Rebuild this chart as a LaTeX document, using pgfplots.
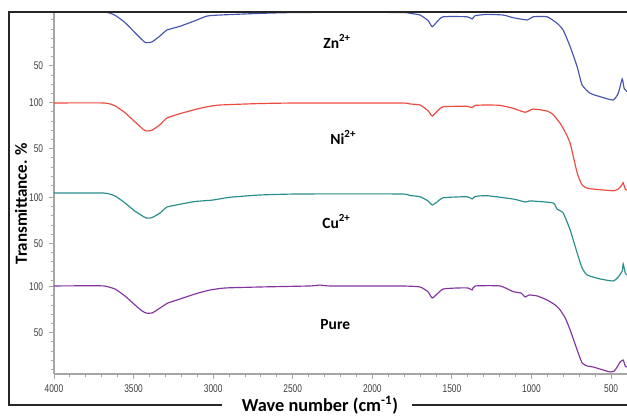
\documentclass[border=0pt]{standalone}
\usepackage{pgfplots}
\usepackage{pgfplotstable}
\pgfplotsset{compat=1.18}
\usepackage{fontspec}
\setmainfont{Carlito}
\newfontfamily\narrowfont[FakeStretch=0.75]{Liberation Sans}
\definecolor{znc}{RGB}{70,86,176}
\definecolor{nic}{RGB}{236,74,62}
\definecolor{cuc}{RGB}{40,142,140}
\definecolor{puc}{RGB}{132,52,158}

\pgfplotstableread{
x T
4000 100.7
3800 100.9
3686 100.7
3617 97.4
3554 89.8
3491 80
3450 74
3422 71.3
3384 71.3
3334 76.7
3284 82.2
3208 86.5
3114 92
3020 96.3
2925 98.5
2705 99.6
2391 100.7
2328 101.7
2265 100.7
1825 100.7
1700 99.6
1649 94.1
1624 87.6
1593 92
1555 97.4
1467 98.5
1398 98.5
1373 96.3
1354 100.7
1197 100.7
1115 94.5
1065 93
1040 88.7
1015 90.9
964 89.8
902 85.4
851 80
820 74.6
788 65.9
757 52.8
713 31.1
682 17
650 13.7
612 12.6
549 9.3
505 7.2
480 8.3
462 12.6
443 18
424 20.2
411 13.7
400 12.6
}\pure

\pgfplotstableread{
x T
4000 104.7
3686 104.7
3617 101.5
3554 94
3491 85
3422 77.6
3384 78
3334 83
3290 89.5
3208 92.5
3114 95.5
3001 97.1
2900 100
2705 102.6
2454 103.7
1825 103.7
1762 102
1700 100.7
1649 96
1624 91.7
1593 95
1555 99.6
1404 100.7
1373 98.2
1354 101
1279 101.8
1115 98.2
1040 95
1015 96
990 96
864 93.9
839 87.3
801 83
757 64.5
713 39.5
682 23.2
650 15.6
568 11.3
487 9.1
455 13.4
430 20
424 27.6
411 17.8
400 15.6
}\cu

\pgfplotstableread{
x T
4000 99.6
3686 99.6
3617 96.5
3554 89
3491 79
3428 69.5
3384 70
3334 76
3290 83.3
3208 88
3114 92.5
3038 95.5
2957 97.4
2705 99
2454 99.6
1825 99.6
1762 98.5
1700 97.4
1649 91
1624 85.4
1593 90.5
1555 95.5
1404 96
1373 94.5
1354 97
1279 97.4
1197 97
1115 93.8
1040 89.5
990 93
902 90.9
864 87
820 77.5
788 68
757 55.8
713 23.5
682 10.4
650 7
612 6
487 4.2
455 6
430 11
424 13
411 6
400 5
}\ni

\pgfplotstableread{
x T
4000 108.5
3686 108.5
3617 105
3554 97
3491 86
3428 75.5
3384 76
3334 82.5
3290 88.9
3208 93
3114 99
3038 104.1
2957 105.2
2705 107
2454 108
1825 108
1762 107
1700 105.2
1649 99
1624 92.5
1593 98
1555 103.3
1404 103.3
1373 100.9
1354 104.5
1279 105.9
1178 105.2
1115 102.3
1027 99.8
990 103.3
902 103.3
839 96.2
801 88.9
757 70.8
713 49
682 29.1
631 20.1
568 16.4
487 12.8
455 20.1
430 35.7
418 25.5
400 22
}\zn

\begin{document}
\begin{tikzpicture}
\begin{axis}[
  at={(0,0)}, anchor=south west,
  scale only axis, width=343.8pt, height=217.2pt,
  xmin=400, xmax=4000, x dir=reverse,
  ymin=0, ymax=393.5,
  axis x line=bottom, axis y line=left,
  axis line style={-, draw=gray!70, line width=0.8pt},
  xtick={500,1000,...,4000}, minor x tick num=4,
  ytick={45,95,142,192,245,295,335},
  yticklabels={50,100,50,100,50,100,50},
  minor ytick={5,15,...,85,102,112,...,182,205,215,...,285,295,305,...,385},
  tick align=outside,
  major tick length=3pt, minor tick length=1.8pt,
  tick style={gray!70, line width=0.5pt},
  tick label style={font=\narrowfont\fontsize{6.7}{7}\selectfont, text=black!75},
  /pgf/number format/assume math mode=true,
  /pgf/number format/1000 sep={},
  clip=false,
  every axis plot/.append style={line width=0.7pt, smooth, tension=0.3},
]
\addplot[puc] table[x=x, y expr=\thisrow{T}-5] {\pure};
\addplot[cuc] table[x=x, y expr=\thisrow{T}+92] {\cu};
\addplot[nic] table[x=x, y expr=\thisrow{T}+195] {\ni};
\addplot[znc] table[x=x, y expr=\thisrow{T}+285] {\zn};
\node[anchor=base west, font=\bfseries\fontsize{9.3}{10}\selectfont, inner sep=0] at (axis cs:2309,354.3) {Zn\textsuperscript{2+}};
\node[anchor=base west, font=\bfseries\fontsize{9.3}{10}\selectfont, inner sep=0] at (axis cs:2265,250) {Ni\textsuperscript{2+}};
\node[anchor=base west, font=\bfseries\fontsize{9.3}{10}\selectfont, inner sep=0] at (axis cs:2316,158.7) {Cu\textsuperscript{2+}};
\node[anchor=base west, font=\bfseries\fontsize{9.3}{10}\selectfont, inner sep=0] at (axis cs:2328,48.9) {Pure};
\end{axis}
\draw[line width=1.2pt, black!85] (350pt,217.2pt) -- (-27pt,217.2pt) -- (-27pt,-18.6pt) -- (100.8pt,-18.6pt);
\draw[line width=1.2pt, black!85] (214.8pt,-18.6pt) -- (350pt,-18.6pt);
\node[inner sep=0pt, font=\bfseries\fontsize{11}{12}\selectfont] at (159.6pt,-18.6pt) {Wave number (cm\textsuperscript{-1})};
\node[rotate=90, font=\bfseries\fontsize{10.2}{12}\selectfont] at (-19.8pt,102.3pt) {Transmittance. \%};
\pgfresetboundingbox
\useasboundingbox (-32.4pt,-27pt) rectangle (343.8pt,224.4pt);
\end{tikzpicture}
\end{document}
